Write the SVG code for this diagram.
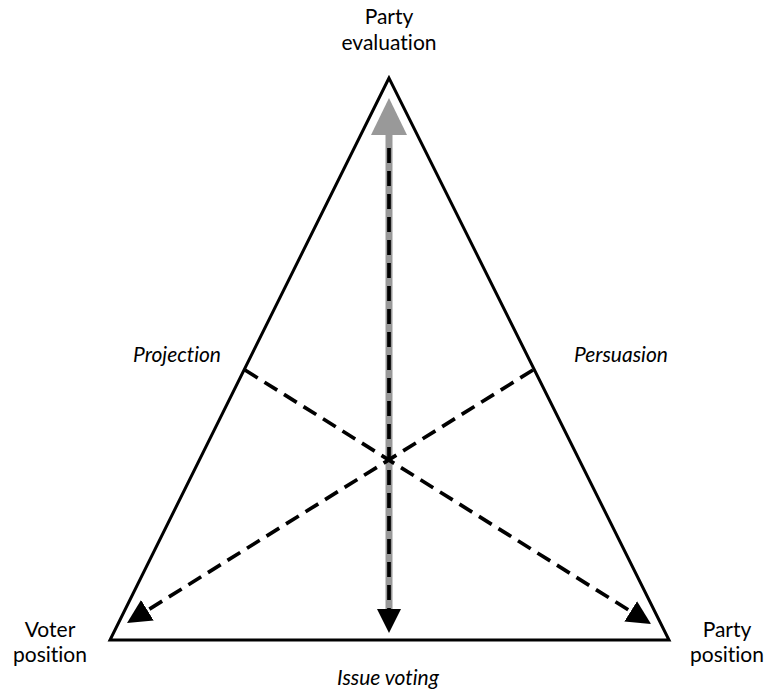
<svg xmlns="http://www.w3.org/2000/svg" width="767" height="694" viewBox="0 0 767 694">
<defs>
<style>
.lbl{font-family:Lato,"Open Sans","Liberation Sans",sans-serif;font-size:21px;fill:#000;font-variant-ligatures:none}
.it{font-style:italic}
.dash{stroke:#000;stroke-width:3.7;stroke-dasharray:15 8;fill:none}
</style>
<marker id="blk" markerUnits="userSpaceOnUse" markerWidth="26" markerHeight="26" refX="0" refY="12" orient="auto" viewBox="0 0 26 26">
<path d="M0,0 L24,12 L0,24 Z" fill="#000"/>
</marker>
<marker id="gry" markerUnits="userSpaceOnUse" markerWidth="40" markerHeight="40" refX="0" refY="18" orient="auto" viewBox="0 0 40 40">
<path d="M0,0 L37,18 L0,36 Z" fill="#999"/>
</marker>
</defs>
<rect width="767" height="694" fill="#fff"/>
<g id="triangle">
<polygon points="389,78 110,640 669,640" fill="none" stroke="#000" stroke-width="3" stroke-linejoin="miter"/>
</g>
<g id="connectors">
<line x1="389" y1="612" x2="389" y2="135" stroke="#999" stroke-width="7" marker-end="url(#gry)"/>
<line class="dash" x1="389" y1="148" x2="389" y2="609" marker-end="url(#blk)"/>
<line class="dash" x1="245" y1="370" x2="630.7" y2="611.3" marker-end="url(#blk)"/>
<line class="dash" x1="533" y1="370" x2="147.4" y2="610.3" marker-end="url(#blk)"/>
</g>
<g id="party-evaluation">
<text class="lbl" x="389" y="24" text-anchor="middle">Party</text>
<text class="lbl" x="389" y="50" text-anchor="middle">evaluation</text>
</g>
<g id="projection">
<text class="lbl it" x="177" y="362" text-anchor="middle">Projection</text>
</g>
<g id="persuasion">
<text class="lbl it" x="621" y="362" text-anchor="middle">Persuasion</text>
</g>
<g id="voter-position">
<text class="lbl" x="50" y="637" text-anchor="middle">Voter</text>
<text class="lbl" x="50" y="662" text-anchor="middle">position</text>
</g>
<g id="party-position">
<text class="lbl" x="727" y="637" text-anchor="middle">Party</text>
<text class="lbl" x="727" y="662" text-anchor="middle">position</text>
</g>
<g id="issue-voting">
<text class="lbl it" x="388" y="685" text-anchor="middle">Issue voting</text>
</g>
</svg>
